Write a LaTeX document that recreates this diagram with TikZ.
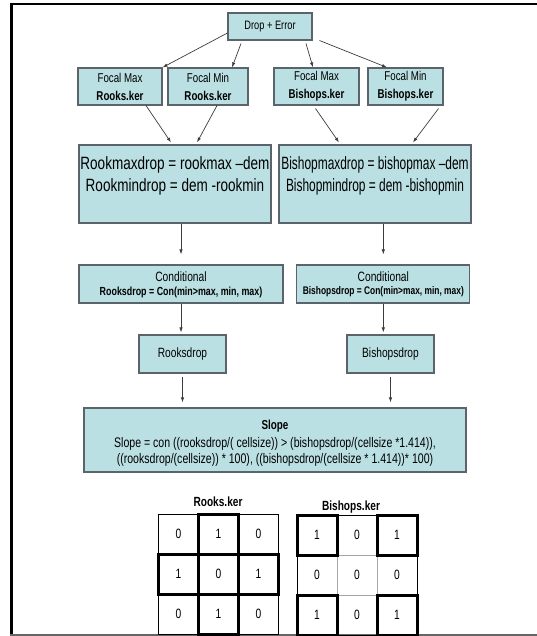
\documentclass[tikz,border=0pt]{standalone}
\usepackage{fontspec}
\setmainfont{Liberation Sans}[FakeStretch=0.76]
\newfontfamily\nrwfont{Liberation Sans}[FakeStretch=0.67]
\usetikzlibrary{arrows.meta,calc}
\definecolor{boxfill}{RGB}{187,224,227}
\definecolor{boxline}{RGB}{90,100,106}
\definecolor{arrowc}{RGB}{60,60,60}
\newcommand\myfs[2]{\fontsize{#1}{#2}\selectfont}
\begin{document}
\begin{tikzpicture}[x=1pt,y=-1pt,
  box/.style={draw=boxline,fill=boxfill,line width=1.1pt,inner sep=0pt,align=center},
  txt/.style={inner sep=0pt,align=center},
  arr/.style={draw=arrowc,line width=0.7pt,-{Latex[length=5pt,width=3.4pt]}},
  thin/.style={line width=1pt},
  thick/.style={line width=3pt},
  num/.style={inner sep=0pt,font=\myfs{13.5}{15}}]
\useasboundingbox (0,0) rectangle (537,636);
% frame
\draw[line width=2.6pt] (537,4) -- (11.3,4) -- (11.3,636);
\draw[line width=1.8pt,color=gray!80!black] (10,635) -- (537,635);

% top
\node[box,minimum width=84pt,minimum height=27pt,font=\myfs{12.2}{14}] (drop) at (270,26.5) {Drop + Error};
\node[box,minimum width=84pt,minimum height=37pt,font=\myfs{12.8}{18}] (fmr) at (120,86.5) {Focal Max\\\textbf{Rooks.ker}};
\node[box,minimum width=80pt,minimum height=37pt,font=\myfs{12.8}{18}] (fmnr) at (208,86.5) {Focal Min\\\textbf{Rooks.ker}};
\node[box,minimum width=85pt,minimum height=37pt,font=\myfs{12.8}{18}] (fmb) at (316.5,86.5) {Focal Max\\\textbf{Bishops.ker}};
\node[box,minimum width=75pt,minimum height=37pt,font=\myfs{12.8}{18}] (fmnb) at (405.5,86.5) {Focal Min\\\textbf{Bishops.ker}};

% big boxes
\node[box,minimum width=192pt,minimum height=78pt] (rbig) at (175,184) {};
\node[txt,font=\myfs{17.8}{22}] (rbigt) at (175,176) {Rookmaxdrop = rookmax –dem\\Rookmindrop = dem -rookmin};
\node[box,minimum width=192pt,minimum height=78pt] (bbig) at (375,184) {};
\node[txt,font=\nrwfont\myfs{17.8}{22}] (bbigt) at (375,176) {Bishopmaxdrop = bishopmax –dem\\Bishopmindrop = dem -bishopmin};

% conditional
\node[box,minimum width=204pt,minimum height=38pt] (condr) at (181,284) {};
\node[txt,font=\myfs{13.5}{15}] (condrt1) at (181,277) {Conditional};
\node[txt,font=\bfseries\myfs{11.7}{14}] (condrt2) at (181,292) {Rooksdrop = Con(min>max, min, max)};
\node[box,minimum width=173pt,minimum height=38pt] (condb) at (383.3,284) {};
\node[txt,font=\myfs{13.5}{15}] (condbt1) at (383.3,277) {Conditional};
\node[txt,font=\bfseries\myfs{11.05}{14}] (condbt2) at (383.3,292) {Bishopsdrop = Con(min>max, min, max)};

% drops
\node[box,minimum width=87pt,minimum height=38pt,font=\myfs{13.4}{15}] (rd) at (182.5,354) {Rooksdrop};
\node[box,minimum width=87pt,minimum height=38pt,font=\myfs{13.4}{15}] (bd) at (390.5,354) {Bishopsdrop};

% slope
\node[box,minimum width=382pt,minimum height=64pt] (slope) at (275,440) {};
\node[txt,font=\bfseries\myfs{13}{15}] (slopet) at (275,426) {Slope};
\node[txt,font=\myfs{13.9}{15.5}] (slopef) at (275,452) {Slope = con ((rooksdrop/( cellsize)) > (bishopsdrop/(cellsize *1.414)),\\((rooksdrop/(cellsize)) * 100), ((bishopsdrop/(cellsize * 1.414))* 100)};

% arrows
\draw[arr] ($(drop.west)+(0,6.5)$) -- (fmr.north east);
\draw[arr] ($(drop.south)+(-29,3)$) -- ($(fmnr.north)+(24,0)$);
\draw[arr] ($(drop.south)+(36,3)$) -- ($(fmb.north)+(-3.5,0)$);
\draw[arr] ($(drop.south east)+(7,0)$) -- ($(fmnb.north)+(-18.5,0)$);
\draw[arr] ($(fmr.south)+(26,0)$) -- ($(rbig.north)+(-4,-2)$);
\draw[arr] ($(fmnr.south)+(9,0)$) -- ($(rbig.north)+(22,-2)$);
\draw[arr] ($(fmb.south)+(-1,3)$) -- ($(bbig.north)+(-36,-2)$);
\draw[arr] ($(fmnb.south)+(33,3)$) -- ($(bbig.north)+(38,-2)$);
\draw[arr] (condr.north |- rbig.south) -- ($(condr.north)+(0,-10)$);
\draw[arr] (condb.north |- bbig.south) -- ($(condb.north)+(0,-10)$);
\draw[arr] (condr.south) -- ($(condr.south |- rd.north)+(0,-2)$);
\draw[arr] (condb.south) -- ($(condb.south |- bd.north)+(0,-2)$);
\draw[arr] ($(rd.south)+(0,3)$) -- ($(rd.south |- slope.north)+(0,-5)$);
\draw[arr] ($(bd.south)+(0,3)$) -- ($(bd.south |- slope.north)+(0,-5)$);

% kernel labels
\node[txt,font=\bfseries\myfs{13.3}{15}] (rklab) at (218,502) {Rooks.ker};
\node[txt,font=\bfseries\myfs{13.3}{15}] (bklab) at (351,507) {Bishops.ker};

% Rooks grid
\begin{scope}[shift={(158.5,514)}]
  \draw[thin] (0,0) rectangle (120,120);
  \foreach \i/\j in {1/0,0/1,2/1,1/2}
    \draw[thick] (\i*40,\j*40) rectangle ++(40,40);
  \foreach \v [count=\k from 0] in {0,1,0,1,0,1,0,1,0}{
    \pgfmathtruncatemacro\c{mod(\k,3)}
    \pgfmathtruncatemacro\r{div(\k,3)}
    \node[num] (rk\k) at (\c*40+20,\r*40+20) {\v};
  }
\end{scope}

% Bishops grid
\begin{scope}[shift={(297,515)}]
  \draw[thin] (0,0) rectangle (120,120);
  \draw[thin,color=gray!70] (40,40) rectangle (80,80);
  \draw[thin] (40,0) -- (40,40) (80,0) -- (80,40) (40,80) -- (40,120) (80,80) -- (80,120)
              (0,40) -- (40,40) (0,80) -- (40,80) (80,40) -- (120,40) (80,80) -- (120,80);
  \foreach \i/\j in {0/0,2/0,0/2,2/2}
    \draw[thick] (\i*40,\j*40) rectangle ++(40,40);
  \foreach \v [count=\k from 0] in {1,0,1,0,0,0,1,0,1}{
    \pgfmathtruncatemacro\c{mod(\k,3)}
    \pgfmathtruncatemacro\r{div(\k,3)}
    \node[num] (bk\k) at (\c*40+20,\r*40+20) {\v};
  }
\end{scope}
\end{tikzpicture}
\end{document}
